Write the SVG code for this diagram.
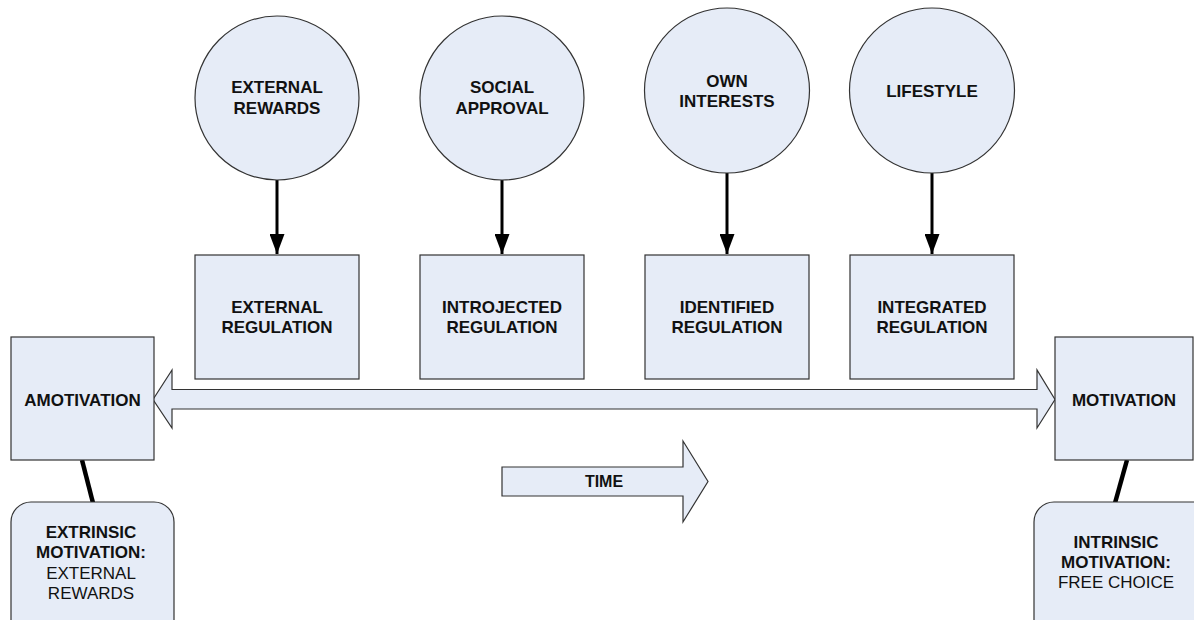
<svg xmlns="http://www.w3.org/2000/svg" width="1194" height="620" viewBox="0 0 1194 620">
<style>
.shape{fill:#E6ECF7;stroke:#333;stroke-width:1.2}
.t{font-family:"Liberation Sans",Arial,sans-serif;font-size:17px;font-weight:bold;fill:#111;text-anchor:middle}
.n{font-weight:normal}
.ln{stroke:#000;stroke-width:3;fill:none}
.thick{stroke:#000;stroke-width:4.5;fill:none}
</style>
<defs>
<marker id="ah" markerWidth="20" markerHeight="15" refX="20" refY="7.5" orient="auto" markerUnits="userSpaceOnUse" viewBox="0 0 20 15">
<path d="M0,0 L20,7.5 L0,15 Z" fill="#000"/>
</marker>
</defs>
<rect width="1194" height="620" fill="#fff"/>
<g id="connectors">
<line class="ln" x1="277" y1="180" x2="277" y2="254" marker-end="url(#ah)"/>
<line class="ln" x1="502" y1="180" x2="502" y2="254" marker-end="url(#ah)"/>
<line class="ln" x1="727" y1="173" x2="727" y2="254" marker-end="url(#ah)"/>
<line class="ln" x1="932" y1="173" x2="932" y2="254" marker-end="url(#ah)"/>
<line class="thick" x1="82" y1="460" x2="93" y2="503"/>
<line class="thick" x1="1127" y1="460" x2="1115" y2="503"/>
</g>
<g id="c-external-rewards">
<circle class="shape" cx="277" cy="98" r="82"/>
<text class="t" x="277" y="93">EXTERNAL</text>
<text class="t" x="277" y="114">REWARDS</text>
</g>
<g id="c-social-approval">
<circle class="shape" cx="502" cy="98" r="82"/>
<text class="t" x="502" y="93">SOCIAL</text>
<text class="t" x="502" y="114">APPROVAL</text>
</g>
<g id="c-own-interests">
<circle class="shape" cx="727" cy="90.5" r="82.5"/>
<text class="t" x="727" y="87">OWN</text>
<text class="t" x="727" y="107">INTERESTS</text>
</g>
<g id="c-lifestyle">
<circle class="shape" cx="932" cy="90.5" r="82.5"/>
<text class="t" x="932" y="97">LIFESTYLE</text>
</g>
<g id="b-external-regulation">
<rect class="shape" x="195" y="255" width="164" height="124"/>
<text class="t" x="277" y="313">EXTERNAL</text>
<text class="t" x="277" y="333">REGULATION</text>
</g>
<g id="b-introjected-regulation">
<rect class="shape" x="420" y="255" width="164" height="124"/>
<text class="t" x="502" y="313">INTROJECTED</text>
<text class="t" x="502" y="333">REGULATION</text>
</g>
<g id="b-identified-regulation">
<rect class="shape" x="645" y="255" width="164" height="124"/>
<text class="t" x="727" y="313">IDENTIFIED</text>
<text class="t" x="727" y="333">REGULATION</text>
</g>
<g id="b-integrated-regulation">
<rect class="shape" x="850" y="255" width="164" height="124"/>
<text class="t" x="932" y="313">INTEGRATED</text>
<text class="t" x="932" y="333">REGULATION</text>
</g>
<g id="double-arrow">
<polygon class="shape" points="153,399.5 172,370 172,389.5 1037,389.5 1037,370 1055,399.5 1037,428 1037,409 172,409 172,428"/>
</g>
<g id="b-amotivation">
<rect class="shape" x="11" y="337" width="143" height="123"/>
<text class="t" x="82.5" y="406">AMOTIVATION</text>
</g>
<g id="b-motivation">
<rect class="shape" x="1055" y="337" width="138" height="123"/>
<text class="t" x="1124" y="406">MOTIVATION</text>
</g>
<g id="time-arrow">
<polygon class="shape" points="502,467 683,467 683,441 708,481.5 683,522 683,496 502,496"/>
<text class="t" x="604" y="487" style="font-size:16px">TIME</text>
</g>
<g id="r-extrinsic">
<rect class="shape" x="11" y="502" width="163" height="140" rx="20" ry="20"/>
<text class="t" x="91" y="538">EXTRINSIC</text>
<text class="t" x="91" y="558">MOTIVATION:</text>
<text class="t n" x="91" y="579">EXTERNAL</text>
<text class="t n" x="91" y="599">REWARDS</text>
</g>
<g id="r-intrinsic">
<rect class="shape" x="1034" y="502" width="180" height="140" rx="20" ry="20"/>
<text class="t" x="1116" y="548">INTRINSIC</text>
<text class="t" x="1116" y="568">MOTIVATION:</text>
<text class="t n" x="1116" y="588">FREE CHOICE</text>
</g>
</svg>
